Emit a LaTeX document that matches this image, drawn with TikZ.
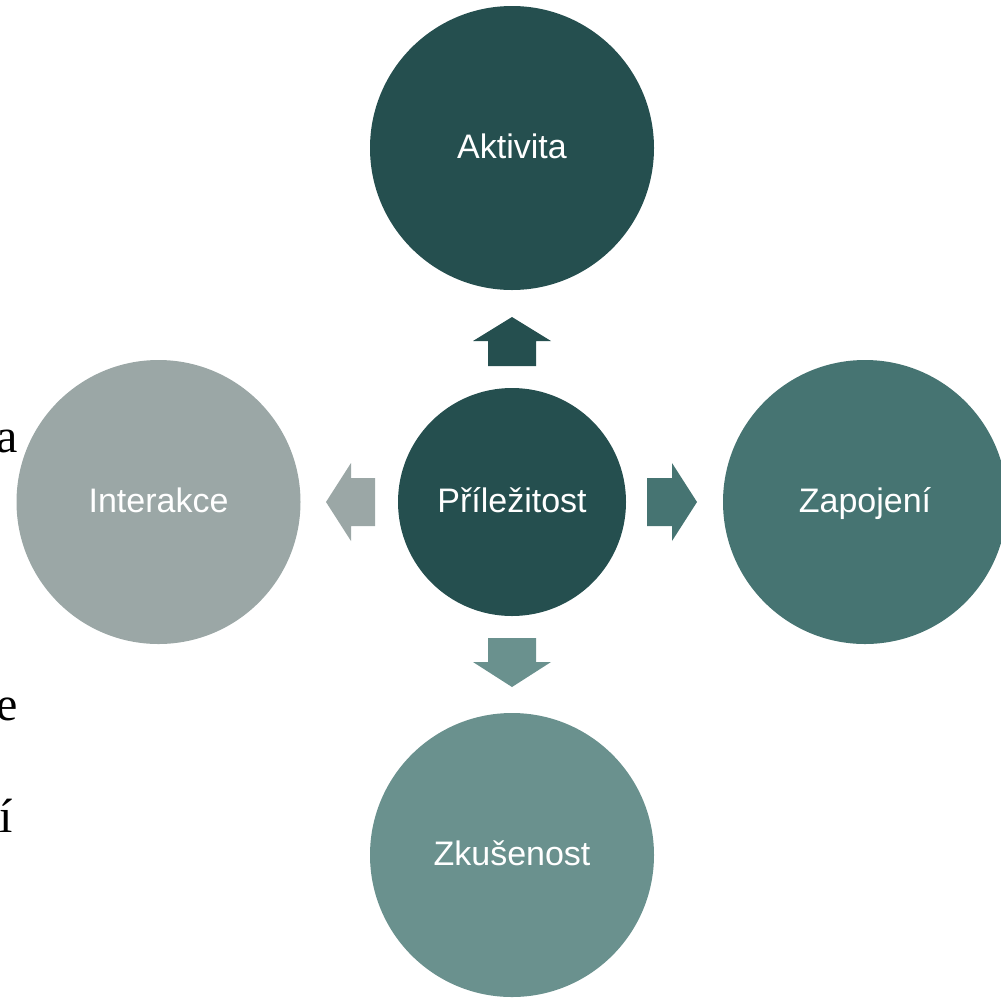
\documentclass[tikz,border=0pt]{standalone}
\usepackage{fontspec}
\setmainfont{Liberation Serif}
\newfontfamily\arialf{Liberation Sans}
\definecolor{cdark}{HTML}{254F4F}
\definecolor{cmid}{HTML}{467472}
\definecolor{clight}{HTML}{6A918E}
\definecolor{cgrey}{HTML}{9BA7A6}
\begin{document}
\begin{tikzpicture}[x=1pt,y=-1pt,
  bubble/.style={circle,minimum size=284pt,inner sep=0pt,draw=none},
  hub/.style={circle,minimum size=228pt,inner sep=0pt,draw=none},
  lbl/.style={text=white,font=\arialf\fontsize{34}{40}\selectfont,anchor=base},
  stray/.style={font=\fontsize{48}{54}\selectfont,anchor=base east,inner sep=0pt}]
\useasboundingbox (0,0) rectangle (1001,997);
% stray letters at left edge
\node[stray] (s1) at (18,452) {a};
\node[stray] (s2) at (18,720) {e};
\node[stray] (s3) at (13,832) {í};
% circles
\node[bubble,fill=cdark] (top) at (512,148) {};
\node[hub,fill=cdark] (hubc) at (512,502) {};
\node[bubble,fill=cgrey] (left) at (158.5,502) {};
\node[bubble,fill=cmid] (right) at (865,502) {};
\node[bubble,fill=clight] (bottom) at (512,855) {};
% labels
\node[lbl] (ltop) at (512,158) {Aktivita};
\node[lbl] (lhub) at (512,512) {Příležitost};
\node[lbl] (lleft) at (158.5,512) {Interakce};
\node[lbl] (lright) at (865,512) {Zapojení};
\node[lbl] (lbottom) at (512,865) {Zkušenost};
% block arrows
\fill[cdark] (488,366) -- (488,341) -- (473,341) -- (512,317) -- (551,341) -- (536,341) -- (536,366) -- cycle;
\fill[clight] (488,638) -- (488,662) -- (473,662) -- (512,687) -- (551,662) -- (536,662) -- (536,638) -- cycle;
\fill[cgrey] (375,478) -- (351,478) -- (351,463) -- (326,502) -- (351,541) -- (351,526) -- (375,526) -- cycle;
\fill[cmid] (647,478) -- (672,478) -- (672,463) -- (697,502) -- (672,541) -- (672,526) -- (647,526) -- cycle;
\end{tikzpicture}
\end{document}
